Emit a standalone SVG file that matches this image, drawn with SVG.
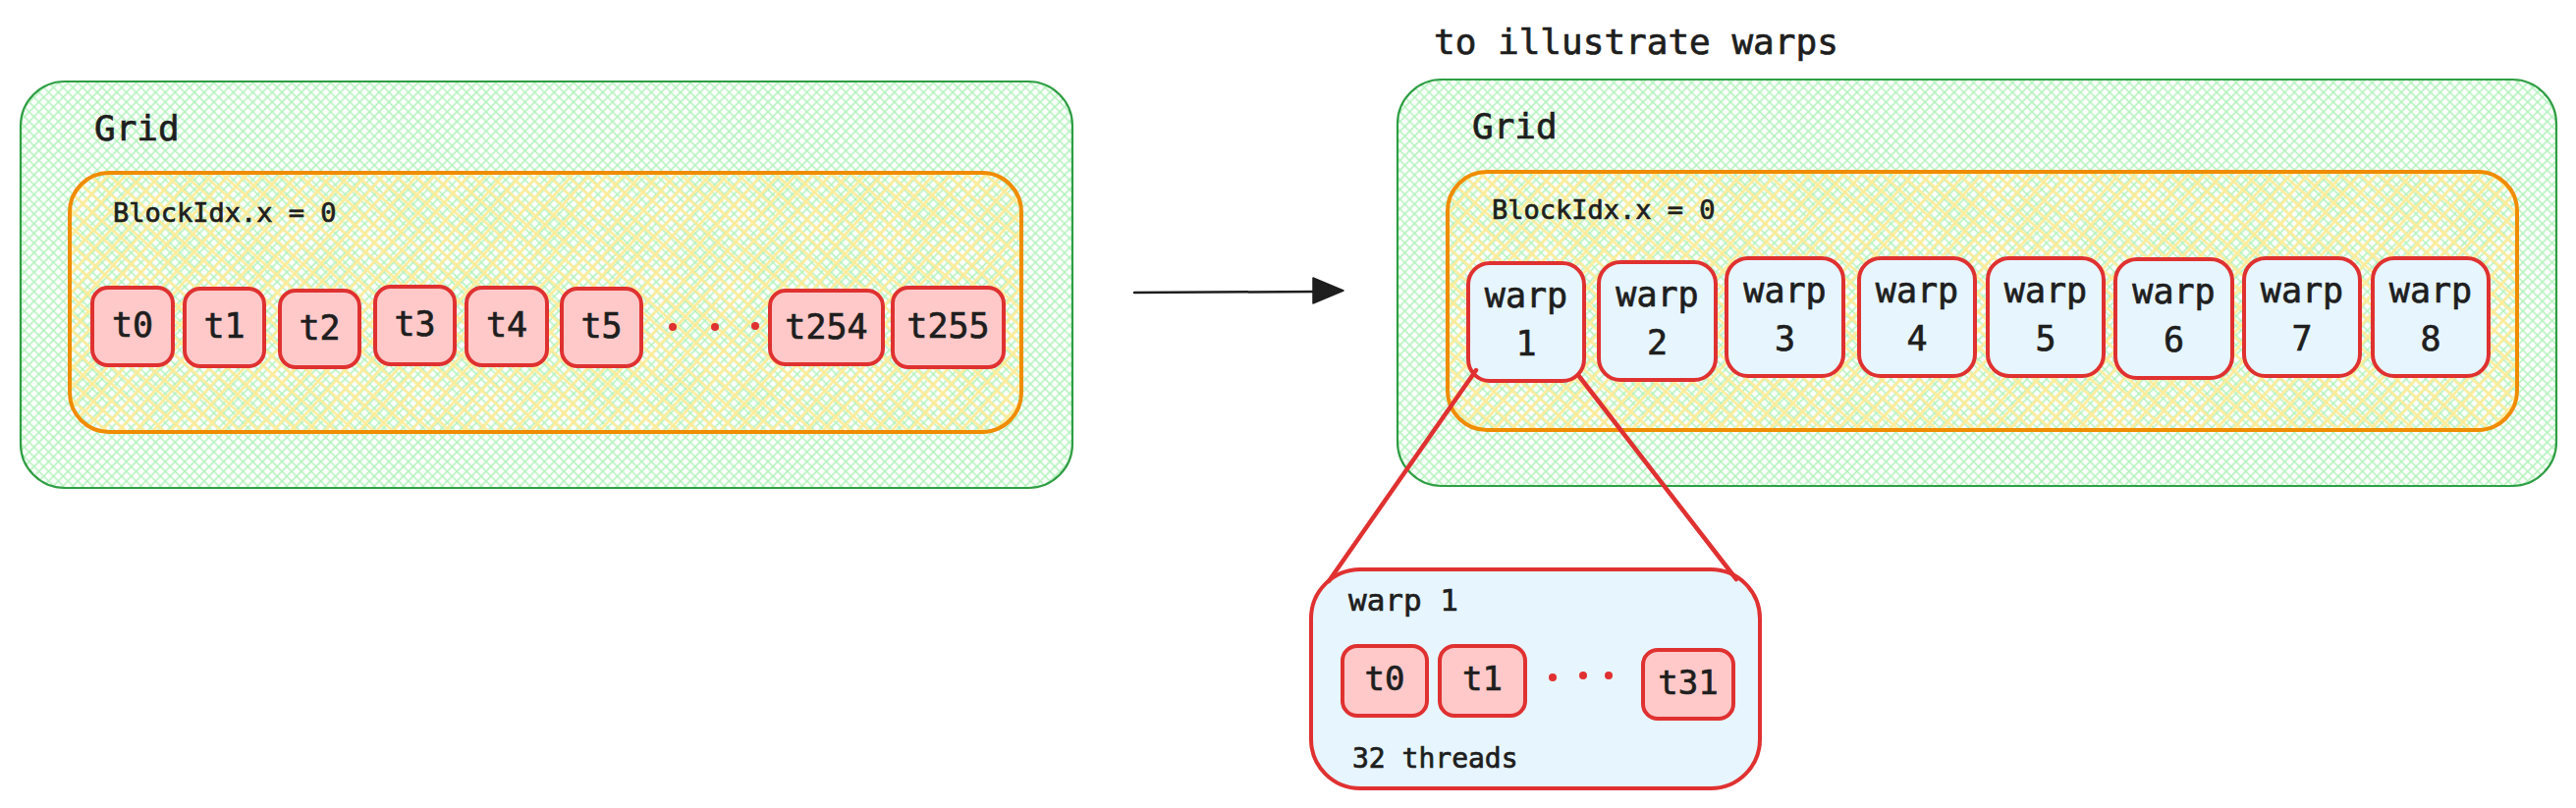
<svg xmlns="http://www.w3.org/2000/svg" width="2623" height="823" viewBox="0 0 2623 823">
<defs>
<pattern id="hG" width="7" height="7" patternUnits="userSpaceOnUse" patternTransform="rotate(45)">
<path d="M0 3.5H7M3.5 0V7" stroke="#b2f2bb" stroke-width="1.6" fill="none"/>
</pattern>
<pattern id="hY" width="13" height="13" patternUnits="userSpaceOnUse" patternTransform="rotate(42)">
<path d="M0 6.5H13M6.5 0V13" stroke="#ffec99" stroke-width="2.6" fill="none"/>
</pattern>
</defs>
<style>
text{font-family:"DejaVu Sans Mono","Liberation Mono",monospace;fill:#1e1e1e;stroke:#1e1e1e;stroke-width:0.7px}
.grid{fill:url(#hG);stroke:#2f9e44;stroke-width:2.2}
.blk{fill:url(#hY);stroke:#f08c00;stroke-width:4}
.th{fill:#ffc9c9;stroke:#e03131;stroke-width:4}
.wp{fill:#e7f5ff;stroke:#e03131;stroke-width:4}
.dot{fill:#e03131}
.tl{font-size:35px;text-anchor:middle}
.tz{font-size:34px;text-anchor:middle}
.big{font-size:36px}
.bi{font-size:27px}
</style>
<rect width="2623" height="823" fill="#ffffff"/>

<g id="left-grid">
<rect class="grid" x="21" y="83" width="1071" height="414" rx="45"/>
<text class="big" x="96" y="143">Grid</text>
</g>
<g id="left-block">
<rect class="blk" x="71" y="176" width="969" height="264" rx="40"/>
<text class="bi" x="115" y="226">BlockIdx.x = 0</text>
</g>
<g id="l-t0"><rect class="th" x="94" y="293" width="82" height="79" rx="16"/><text class="tl" x="135" y="343">t0</text></g>
<g id="l-t1"><rect class="th" x="188" y="294" width="81" height="79" rx="16"/><text class="tl" x="228.5" y="344">t1</text></g>
<g id="l-t2"><rect class="th" x="285" y="296" width="81" height="78" rx="16"/><text class="tl" x="325.5" y="346">t2</text></g>
<g id="l-t3"><rect class="th" x="382" y="292" width="81" height="79" rx="16"/><text class="tl" x="422.5" y="342">t3</text></g>
<g id="l-t4"><rect class="th" x="475" y="293" width="82" height="79" rx="16"/><text class="tl" x="516" y="343">t4</text></g>
<g id="l-t5"><rect class="th" x="572" y="294" width="81" height="79" rx="16"/><text class="tl" x="612.5" y="344">t5</text></g>
<g id="l-dots"><circle class="dot" cx="685" cy="333" r="4"/><circle class="dot" cx="728" cy="333" r="4"/><circle class="dot" cx="769" cy="332" r="4"/></g>
<g id="l-t254"><rect class="th" x="784" y="296" width="115" height="75" rx="16"/><text class="tl" x="841.5" y="345">t254</text></g>
<g id="l-t255"><rect class="th" x="909" y="293" width="113" height="81" rx="16"/><text class="tl" x="965.5" y="344">t255</text></g>

<g id="caption"><text class="big" x="1460" y="55">to illustrate warps</text></g>

<g id="right-grid">
<rect class="grid" x="1423" y="81" width="1180" height="414" rx="45"/>
<text class="big" x="1499" y="141">Grid</text>
</g>
<g id="right-block">
<rect class="blk" x="1474" y="175" width="1089" height="263" rx="40"/>
<text class="bi" x="1519" y="223">BlockIdx.x = 0</text>
</g>
<g id="warp1"><rect class="wp" x="1495" y="268" width="118" height="120" rx="22"/><text class="tl" x="1554" y="313">warp</text><text class="tl" x="1554" y="362">1</text></g>
<g id="warp2"><rect class="wp" x="1628" y="267" width="119" height="120" rx="22"/><text class="tl" x="1687.5" y="312">warp</text><text class="tl" x="1687.5" y="361">2</text></g>
<g id="warp3"><rect class="wp" x="1758" y="263" width="119" height="120" rx="22"/><text class="tl" x="1817.5" y="308">warp</text><text class="tl" x="1817.5" y="357">3</text></g>
<g id="warp4"><rect class="wp" x="1893" y="263" width="118" height="120" rx="22"/><text class="tl" x="1952" y="308">warp</text><text class="tl" x="1952" y="357">4</text></g>
<g id="warp5"><rect class="wp" x="2024" y="263" width="118" height="120" rx="22"/><text class="tl" x="2083" y="308">warp</text><text class="tl" x="2083" y="357">5</text></g>
<g id="warp6"><rect class="wp" x="2154" y="264" width="119" height="121" rx="22"/><text class="tl" x="2213.5" y="309">warp</text><text class="tl" x="2213.5" y="358">6</text></g>
<g id="warp7"><rect class="wp" x="2285" y="263" width="118" height="120" rx="22"/><text class="tl" x="2344" y="308">warp</text><text class="tl" x="2344" y="357">7</text></g>
<g id="warp8"><rect class="wp" x="2416" y="263" width="118" height="120" rx="22"/><text class="tl" x="2475" y="308">warp</text><text class="tl" x="2475" y="357">8</text></g>

<g id="warp1-detail">
<rect class="wp" x="1335" y="580" width="457" height="223" rx="50"/>
<text x="1373" y="622" style="font-size:31px">warp 1</text>
<text x="1377" y="782" style="font-size:28px">32 threads</text>
</g>
<g id="z-t0"><rect class="th" x="1367" y="658" width="86" height="71" rx="15"/><text class="tz" x="1410" y="703">t0</text></g>
<g id="z-t1"><rect class="th" x="1466" y="658" width="87" height="71" rx="15"/><text class="tz" x="1509.5" y="703">t1</text></g>
<g id="z-dots"><circle class="dot" cx="1581" cy="690" r="4"/><circle class="dot" cx="1612" cy="688" r="4"/><circle class="dot" cx="1638" cy="688" r="4"/></g>
<g id="z-t31"><rect class="th" x="1673" y="662" width="92" height="70" rx="15"/><text class="tz" x="1719" y="707">t31</text></g>

<g id="connectors">
<line x1="1155" y1="298" x2="1342" y2="297" stroke="#1e1e1e" stroke-width="2.5" stroke-linecap="round"/>
<polygon points="1368,296 1337,283 1337,309" fill="#1e1e1e" stroke="#1e1e1e" stroke-width="1.5" stroke-linejoin="round"/>
<line x1="1503" y1="377" x2="1353" y2="592" stroke="#e03131" stroke-width="4.5" stroke-linecap="round"/>
<line x1="1607" y1="382" x2="1768" y2="590" stroke="#e03131" stroke-width="4.5" stroke-linecap="round"/>
</g>
</svg>
